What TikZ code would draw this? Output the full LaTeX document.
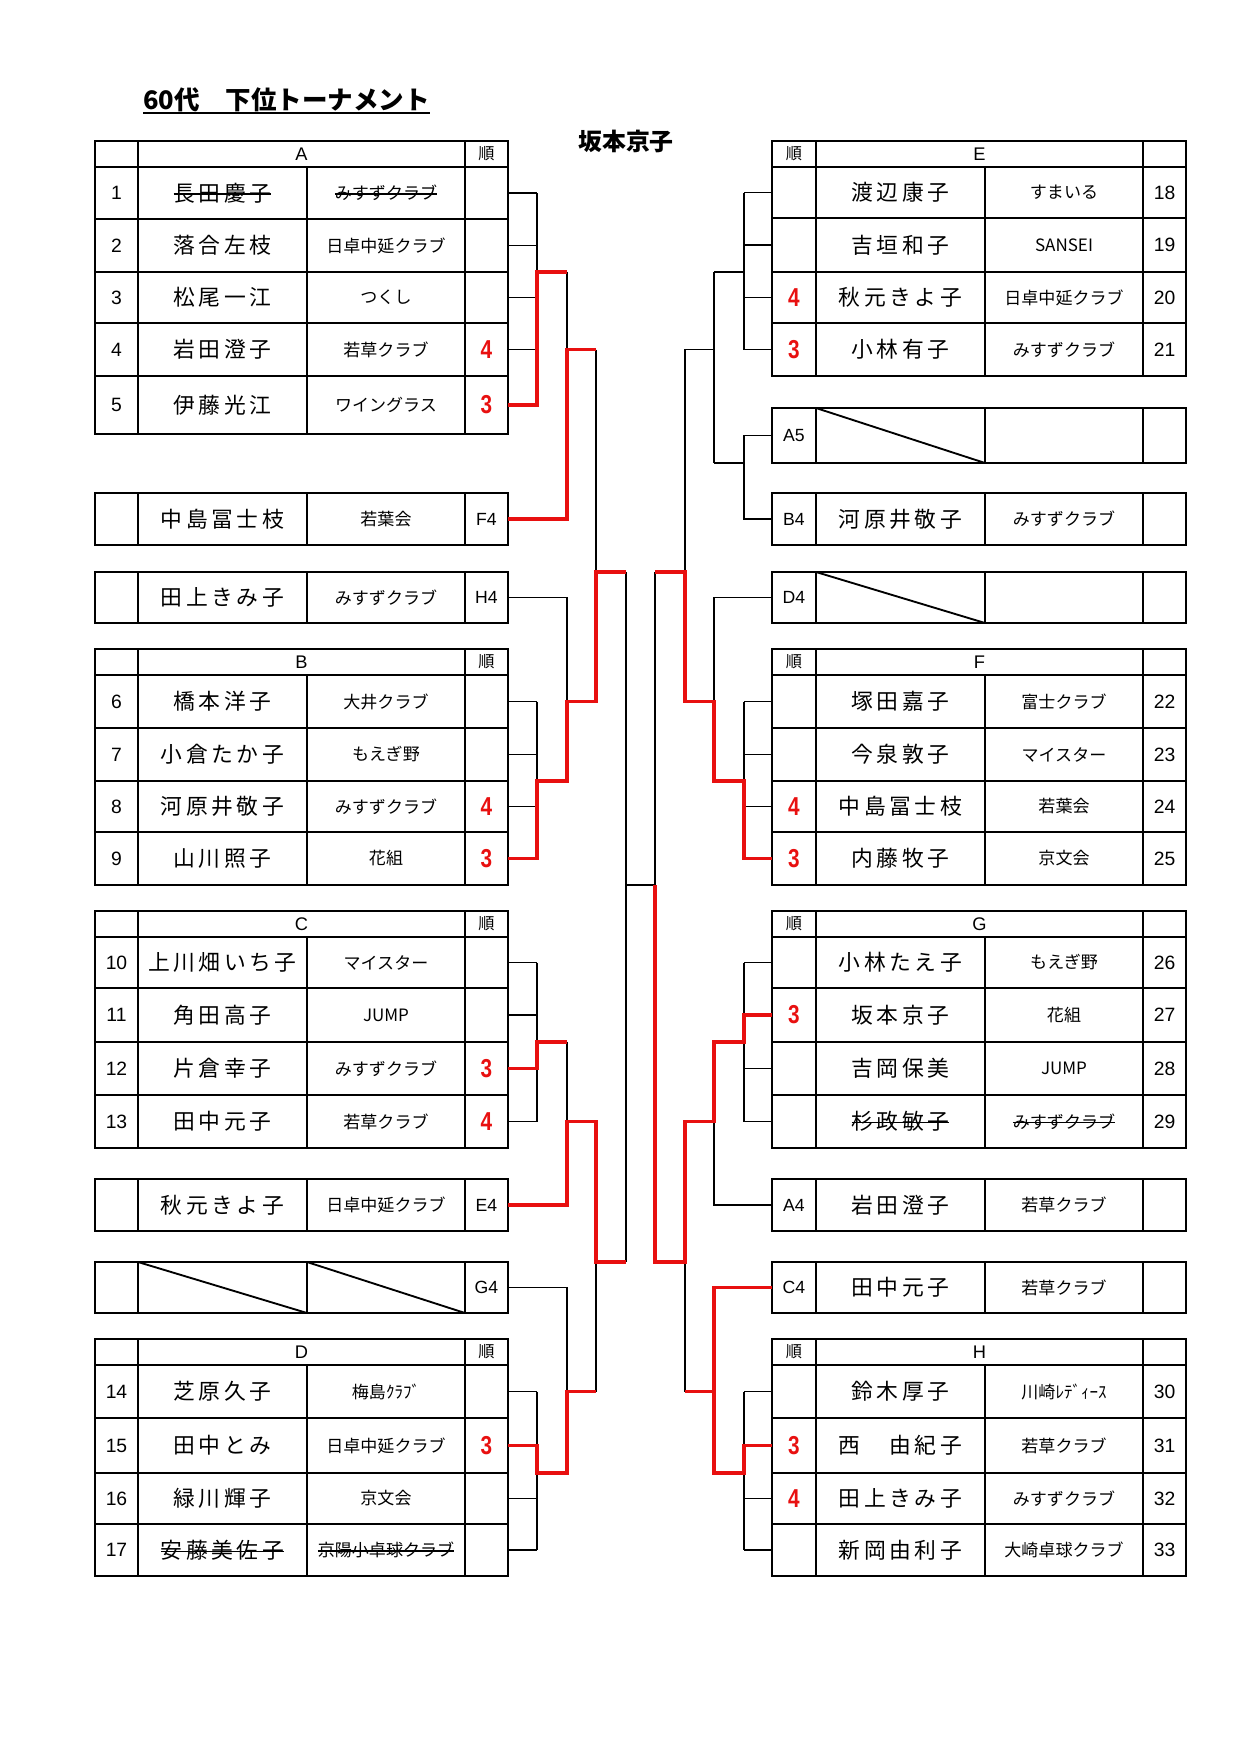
\documentclass[tikz,border=0pt]{standalone}
\usepackage{graphicx}
\usepackage{fontspec}
\setmainfont{Liberation Sans}
\newfontfamily\jp{Noto Sans CJK JP}
\definecolor{wred}{RGB}{232,16,16}

\newcommand\pxu{0.16935mm}
\newcommand\nmgap{1.7pt}
\makeatletter
\newcommand\nm[1]{\def\nm@sep{}\@tfor\nm@c:=#1\do{\nm@sep\nm@c\def\nm@sep{\hspace{\nmgap}}}}
\makeatother
\newsavebox\stkbox
\newcommand\strike[1]{\sbox\stkbox{#1}\rlap{\rule[0.3em]{\wd\stkbox}{0.6pt}}\usebox\stkbox}

\newcommand\namef{\jp\fontsize{10.5pt}{12pt}\selectfont}
\newcommand\clubf{\jp\fontsize{8.2pt}{10pt}\selectfont}
\newcommand\numf{\fontsize{9.3pt}{11pt}\selectfont}
\newcommand\headf{\fontsize{8.8pt}{10pt}\selectfont}
\newcommand\junf{\jp\fontsize{7.8pt}{9pt}\selectfont}
\newcommand\rk[1]{\textcolor{wred}{\bfseries\fontsize{12.5pt}{14pt}\selectfont\scalebox{0.8}[1]{#1}}}
\newcommand\lb[1]{{\fontsize{8.5pt}{10pt}\selectfont #1}}

\tikzset{
  cell/.style={draw, line width=1pt, inner sep=0pt, outer sep=0pt, anchor=north west},
  bk/.style={line width=0.85pt},
  rd/.style={line width=1.9pt, wred},
  diag/.style={line width=0.9pt}
}

% left row: key, top, height, no, name, club, rank
\newcommand\lrow[7]{%
  \node[cell, minimum width=43*\pxu, minimum height=#3*\pxu, font=\numf] (#1n) at (95,#2) {#4};
  \node[cell, minimum width=169*\pxu, minimum height=#3*\pxu, font=\namef] (#1p) at (138,#2) {#5};
  \node[cell, minimum width=158*\pxu, minimum height=#3*\pxu, font=\clubf] (#1c) at (307,#2) {#6};
  \node[cell, minimum width=43*\pxu, minimum height=#3*\pxu] (#1) at (465,#2) {#7};
}
% right row: key, top, height, rank, name, club, no
\newcommand\rrow[7]{%
  \node[cell, minimum width=44*\pxu, minimum height=#3*\pxu] (#1) at (772,#2) {#4};
  \node[cell, minimum width=169*\pxu, minimum height=#3*\pxu, font=\namef] (#1p) at (816,#2) {#5};
  \node[cell, minimum width=158*\pxu, minimum height=#3*\pxu, font=\clubf] (#1c) at (985,#2) {#6};
  \node[cell, minimum width=43*\pxu, minimum height=#3*\pxu, font=\numf] (#1n) at (1143,#2) {#7};
}
\newcommand\lhead[3]{%
  \node[cell, minimum width=43*\pxu, minimum height=26*\pxu] (#1h0) at (95,#2) {};
  \node[cell, minimum width=327*\pxu, minimum height=26*\pxu, font=\headf] (#1h) at (138,#2) {#3};
  \node[cell, minimum width=43*\pxu, minimum height=26*\pxu, font=\junf] (#1hj) at (465,#2) {順};
}
\newcommand\rhead[3]{%
  \node[cell, minimum width=44*\pxu, minimum height=26*\pxu, font=\junf] (#1hj) at (772,#2) {順};
  \node[cell, minimum width=327*\pxu, minimum height=26*\pxu, font=\headf] (#1h) at (816,#2) {#3};
  \node[cell, minimum width=43*\pxu, minimum height=26*\pxu] (#1h0) at (1143,#2) {};
}

\begin{document}
\begin{tikzpicture}[x=0.16935mm, y=-0.16935mm]
\useasboundingbox (0,0) rectangle (1240,1754);

\node[font=\jp\bfseries\fontsize{12.3pt}{14pt}\selectfont, anchor=base west, inner sep=0pt] (title) at (143,109) {60代　下位トーナメント};
\draw[line width=1pt] ([yshift=-1.8pt]title.base west) -- ([yshift=-1.8pt]title.base east); %underline
\node[font=\jp\bfseries\fontsize{11.5pt}{13pt}\selectfont] (champ) at (626,141) {坂本京子};

% left side
\lhead{A}{141}{A}
\lrow{a1}{167}{52}{1}{\strike{\nm{長田慶子}}}{\strike{みすずクラブ}}{}
\lrow{a2}{219}{53}{2}{\nm{落合左枝}}{日卓中延クラブ}{}
\lrow{a3}{272}{51}{3}{\nm{松尾一江}}{つくし}{}
\lrow{a4}{323}{53}{4}{\nm{岩田澄子}}{若草クラブ}{\rk4}
\lrow{a5}{376}{58}{5}{\nm{伊藤光江}}{ワイングラス}{\rk3}

\lrow{lf4}{493}{52}{}{\nm{中島冨士枝}}{若葉会}{\lb{F4}}
\lrow{lh4}{572}{51}{}{\nm{田上きみ子}}{みすずクラブ}{\lb{H4}}

\lhead{B}{649}{B}
\lrow{b1}{675}{53}{6}{\nm{橋本洋子}}{大井クラブ}{}
\lrow{b2}{728}{53}{7}{\nm{小倉たか子}}{もえぎ野}{}
\lrow{b3}{781}{51}{8}{\nm{河原井敬子}}{みすずクラブ}{\rk4}
\lrow{b4}{832}{53}{9}{\nm{山川照子}}{花組}{\rk3}

\lhead{C}{911}{C}
\lrow{c1}{937}{51}{10}{\nm{上川畑いち子}}{マイスター}{}
\lrow{c2}{988}{54}{11}{\nm{角田高子}}{JUMP}{}
\lrow{c3}{1042}{53}{12}{\nm{片倉幸子}}{みすずクラブ}{\rk3}
\lrow{c4}{1095}{53}{13}{\nm{田中元子}}{若草クラブ}{\rk4}

\lrow{le4}{1179}{52}{}{\nm{秋元きよ子}}{日卓中延クラブ}{\lb{E4}}
\lrow{lg4}{1262}{51}{}{}{}{\lb{G4}}
\draw[diag] (lg4p.north west) -- (lg4p.south east);
\draw[diag] (lg4c.north west) -- (lg4c.south east);

\lhead{D}{1339}{D}
\lrow{d1}{1365}{53}{14}{\nm{芝原久子}}{梅島ｸﾗﾌﾞ}{}
\lrow{d2}{1418}{55}{15}{\nm{田中とみ}}{日卓中延クラブ}{\rk3}
\lrow{d3}{1473}{51}{16}{\nm{緑川輝子}}{京文会}{}
\lrow{d4}{1524}{52}{17}{\strike{\nm{安藤美佐子}}}{\strike{京陽小卓球クラブ}}{}

% right side
\rhead{E}{141}{E}
\rrow{e1}{167}{51}{}{\nm{渡辺康子}}{すまいる}{18}
\rrow{e2}{218}{54}{}{\nm{吉垣和子}}{SANSEI}{19}
\rrow{e3}{272}{51}{\rk4}{\nm{秋元きよ子}}{日卓中延クラブ}{20}
\rrow{e4}{323}{53}{\rk3}{\nm{小林有子}}{みすずクラブ}{21}

\rrow{ra5}{408}{55}{\lb{A5}}{}{}{}
\draw[diag] (ra5p.north west) -- (ra5p.south east);
\rrow{rb4}{493}{52}{\lb{B4}}{\nm{河原井敬子}}{みすずクラブ}{}
\rrow{rd4}{572}{51}{\lb{D4}}{}{}{}
\draw[diag] (rd4p.north west) -- (rd4p.south east);

\rhead{F}{649}{F}
\rrow{f1}{675}{53}{}{\nm{塚田嘉子}}{富士クラブ}{22}
\rrow{f2}{728}{53}{}{\nm{今泉敦子}}{マイスター}{23}
\rrow{f3}{781}{51}{\rk4}{\nm{中島冨士枝}}{若葉会}{24}
\rrow{f4}{832}{53}{\rk3}{\nm{内藤牧子}}{京文会}{25}

\rhead{G}{911}{G}
\rrow{g1}{937}{51}{}{\nm{小林たえ子}}{もえぎ野}{26}
\rrow{g2}{988}{54}{\rk3}{\nm{坂本京子}}{花組}{27}
\rrow{g3}{1042}{53}{}{\nm{吉岡保美}}{JUMP}{28}
\rrow{g4}{1095}{53}{}{\strike{\nm{杉政敏子}}}{\strike{みすずクラブ}}{29}

\rrow{ra4}{1179}{52}{\lb{A4}}{\nm{岩田澄子}}{若草クラブ}{}
\rrow{rc4}{1262}{51}{\lb{C4}}{\nm{田中元子}}{若草クラブ}{}

\rhead{H}{1339}{H}
\rrow{h1}{1365}{53}{}{\nm{鈴木厚子}}{川崎ﾚﾃﾞｨｰｽ}{30}
\rrow{h2}{1418}{55}{\rk3}{\nm{西　由紀子}}{若草クラブ}{31}
\rrow{h3}{1473}{51}{\rk4}{\nm{田上きみ子}}{みすずクラブ}{32}
\rrow{h4}{1524}{52}{}{\nm{新岡由利子}}{大崎卓球クラブ}{33}

% bracket levels
\coordinate (L1) at (537,0);
\coordinate (L2) at (567,0);
\coordinate (L3) at (596,0);
\coordinate (L4) at (626,0);
\coordinate (R4) at (655,0);
\coordinate (R3) at (685,0);
\coordinate (R2) at (714,0);
\coordinate (R1) at (744,0);

% black lines, left
\foreach \r in {a1,a2,a3,a4,b1,b2,b3,c1,c2,c4,d1,d3,d4} \draw[bk] (\r.east) -- (L1 |- \r.east);
\draw[bk] (L1 |- a1.east) -- (L1 |- a2.south);
\draw[bk] (L1 |- b1.east) -- (L1 |- b2.south);
\draw[bk] (L1 |- c1.east) -- (L1 |- c4.east);
\draw[bk] (L1 |- d1.east) -- (L1 |- d4.east);
\draw[bk] (L2 |- a2.south) -- (L2 |- a4.east);
\draw[bk] (lh4.east) -| (L2 |- b1.east);
\draw[bk] (L2 |- c2.south) -- (L2 |- c4.east);
\draw[bk] (lg4.east) -| (L2 |- d1.east);
\draw[bk] (L3 |- a4.east) -- (L3 |- lh4.north);
\draw[bk] (L3 |- lg4.north) -- (L3 |- d1.east);
\draw[bk] (L4 |- lh4.north) -- (L4 |- lg4.north);
\draw[bk] (L4 |- b4.south) -- (R4 |- f4.south); %final

% black lines, right
\foreach \r in {e1,e2,e3,e4,f1,f2,f3,g1,g3,g4,h1,h3,h4} \draw[bk] (\r.west) -- (R1 |- \r.west);
\draw[bk] (R1 |- e1.west) -- (R1 |- e4.west);
\draw[bk] (R1 |- e2.south) -- (R2 |- e2.south);
\draw[bk] (ra5.west) -| (R1 |- rb4.west) -- (rb4.west);
\draw[bk] (R1 |- ra5.south) -- (R2 |- ra5.south);
\draw[bk] (R2 |- e2.south) -- (R2 |- ra5.south);
\draw[bk] (R2 |- e4.west) -| (R3 |- rd4.north);
\draw[bk] (rd4.west) -| (R2 |- f1.west);
\draw[bk] (R1 |- f1.west) -- (R1 |- f2.south);
\draw[bk] (R1 |- g1.west) -- (R1 |- g4.west);
\draw[bk] (ra4.west) -| (R2 |- g4.west);
\draw[bk] (R1 |- h1.west) -- (R1 |- h4.west);
\draw[bk] (R3 |- rc4.north) -- (R3 |- h1.west);
\draw[bk] (R4 |- rd4.north) -- (R4 |- f4.south);

% red lines, left
\draw[rd] (a5.east) -| (L1 |- a2.south) -- (L2 |- a2.south);
\draw[rd] (lf4.east) -| (L2 |- a4.east) -- (L3 |- a4.east);
\draw[rd] (b4.east) -| (L1 |- b2.south) -- (L2 |- b2.south) -- (L2 |- b1.east) -- (L3 |- b1.east) -- (L3 |- lh4.north) -- (L4 |- lh4.north);
\draw[rd] (c3.east) -| (L1 |- c2.south) -- (L2 |- c2.south);
\draw[rd] (le4.east) -| (L2 |- c4.east) -- (L3 |- c4.east) -- (L3 |- lg4.north) -- (L4 |- lg4.north);
\draw[rd] (d2.east) -| (L1 |- d2.south) -- (L2 |- d2.south) -- (L2 |- d1.east) -- (L3 |- d1.east);

% red lines, right
\draw[rd] (f4.west) -| (R1 |- f2.south) -- (R2 |- f2.south) -- (R2 |- f1.west) -- (R3 |- f1.west) -- (R3 |- rd4.north) -- (R4 |- rd4.north);
\draw[rd] (g2.west) -| (R1 |- g2.south) -- (R2 |- g2.south) -- (R2 |- g4.west) -- (R3 |- g4.west) -- (R3 |- rc4.north) -- (R4 |- rc4.north) -- (R4 |- f4.south);
\draw[rd] (rc4.west) -| (R2 |- h2.south) -- (R1 |- h2.south) -- (R1 |- h2.west) -- (h2.west);
\draw[rd] (R2 |- h1.west) -- (R3 |- h1.west);
\end{tikzpicture}
\end{document}
